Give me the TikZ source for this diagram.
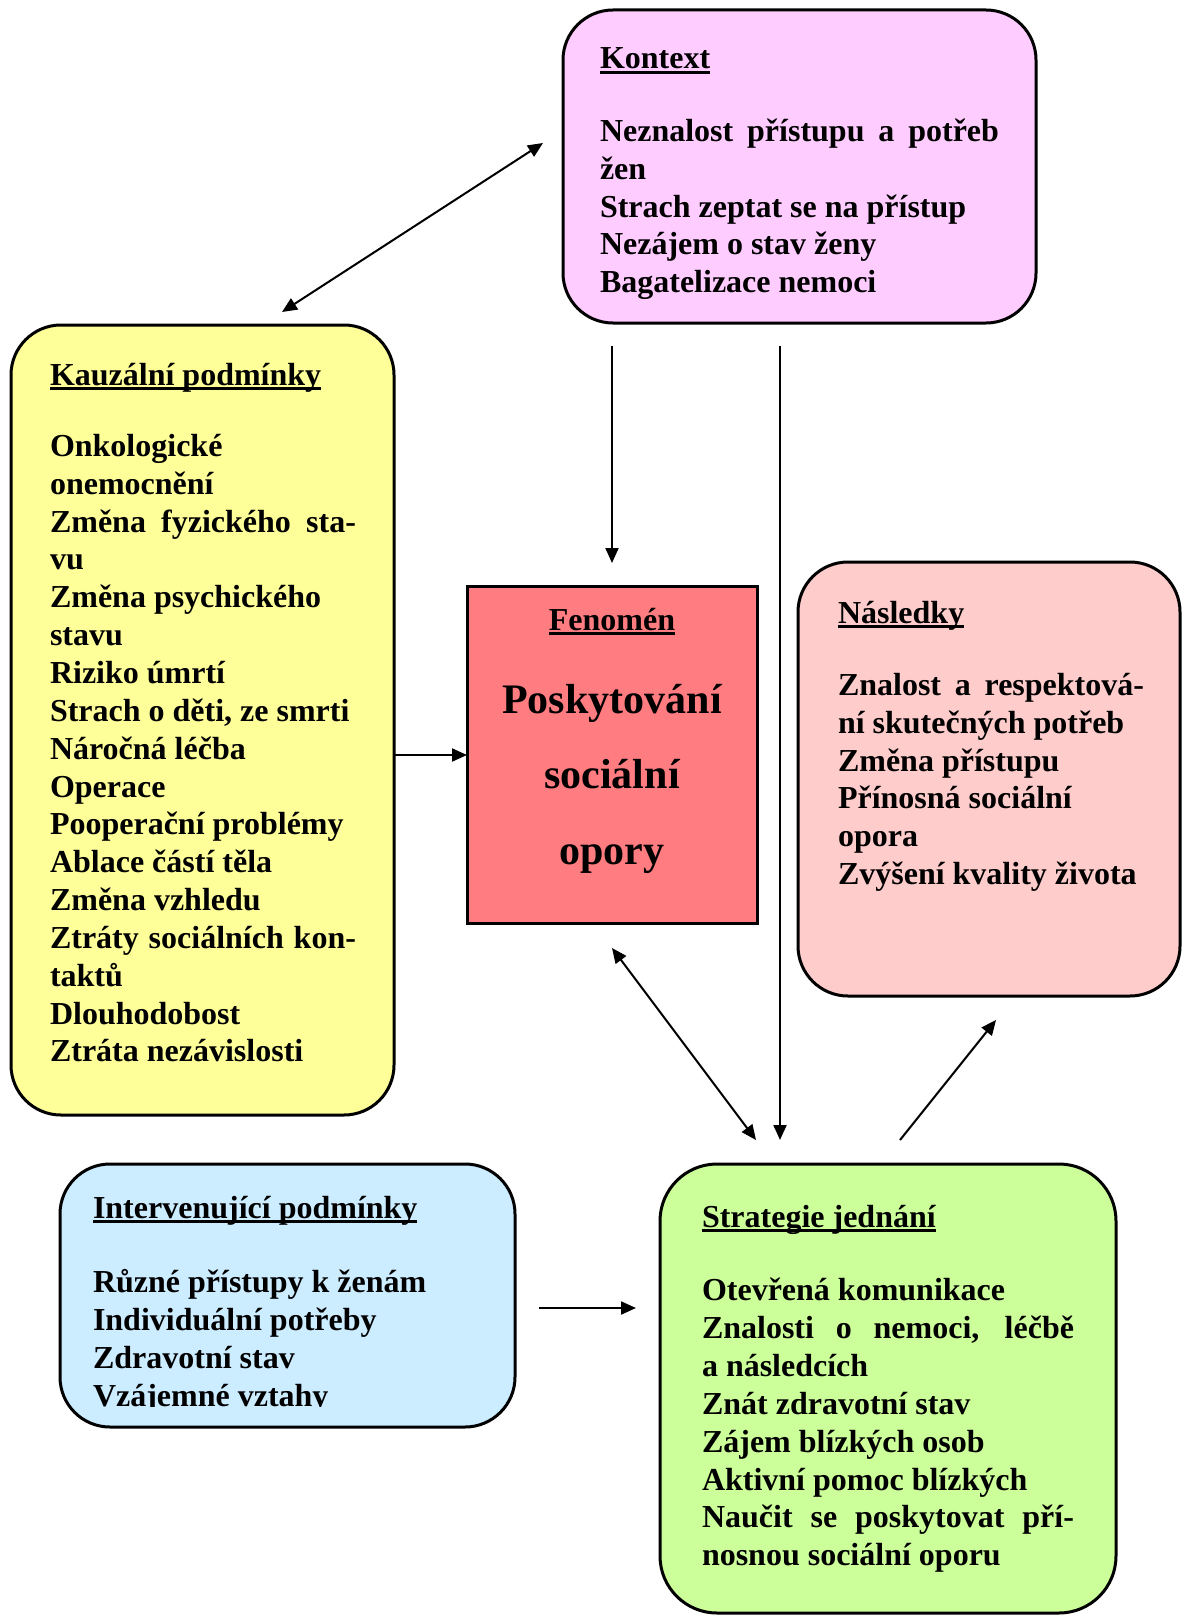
\documentclass[tikz,border=0pt]{standalone}
\usepackage{fontspec}
\setmainfont{Liberation Serif}
\usetikzlibrary{arrows.meta}
\definecolor{ckontext}{HTML}{FFCCFF}
\definecolor{ckauz}{HTML}{FFFF99}
\definecolor{cfen}{HTML}{FF7C80}
\definecolor{cnasl}{HTML}{FFCCCC}
\definecolor{cint}{HTML}{CCECFF}
\definecolor{cstrat}{HTML}{CCFF99}
\newcommand{\Ttl}[1]{\setbox0=\hbox{#1}\hbox{\rlap{\vrule height -2pt depth 5pt width \wd0}\box0}}
\newcommand{\Lf}[1]{\hbox{#1}}
\newcommand{\Lj}[1]{\hbox to \hsize{#1}}
\newcommand{\Lc}[1]{\hbox to \hsize{\hfil#1\hfil}}
\newcommand{\Blk}[2]{\vtop{\fontsize{32pt}{37.85pt}\selectfont\bfseries\hsize=#1\relax\spaceskip=0.25em plus 1fil\relax\lineskiplimit=-100pt\lineskip=0pt #2}}
\tikzset{
  rbox/.style={draw, line width=3pt, rounded corners=50pt, inner sep=0pt, outer sep=0pt},
  sbox/.style={draw, line width=3pt, inner sep=0pt, outer sep=0pt},
  txt/.style={inner sep=0pt, outer sep=0pt, anchor=base west},
  arr/.style={line width=2pt, -{Triangle[length=15pt,width=13pt]}},
  darr/.style={line width=2pt, {Triangle[length=15pt,width=13pt]}-{Triangle[length=15pt,width=13pt]}}
}
\begin{document}
\begin{tikzpicture}[x=1pt,y=-1pt]
\useasboundingbox (0,0) rectangle (1182,1616);
% boxes
\node[rbox, fill=ckontext, minimum width=473pt, minimum height=313pt] (kontext) at (799.5,166.5) {};
\node[rbox, fill=ckauz, minimum width=383pt, minimum height=790pt] (kauz) at (202.5,720) {};
\node[sbox, fill=cfen, minimum width=290pt, minimum height=337pt] (fen) at (612,755) {};
\node[rbox, fill=cnasl, minimum width=382pt, minimum height=434pt] (nasl) at (989,779) {};
\node[rbox, fill=cint, minimum width=455pt, minimum height=263pt] (interv) at (287.5,1295.5) {};
\node[rbox, fill=cstrat, minimum width=456pt, minimum height=449pt, rounded corners=57pt] (strat) at (888,1388.5) {};
% texts
\node[txt] (kontextT) at (600,69) {\Blk{399pt}{%
\Ttl{Kontext}
\vskip 34.5pt
\Lj{Neznalost přístupu a potřeb}
\Lf{žen}
\Lf{Strach zeptat se na přístup}
\Lf{Nezájem o stav ženy}
\Lf{Bagatelizace nemoci}}};
\node[txt] (kauzT) at (50,385) {\Blk{306pt}{%
\Ttl{Kauzální podmínky}
\vskip 33.5pt
\Lf{Onkologické}
\Lf{onemocnění}
\Lj{Změna fyzického sta-}
\Lf{vu}
\Lf{Změna psychického}
\Lf{stavu}
\Lf{Riziko úmrtí}
\Lf{Strach o děti, ze smrti}
\Lf{Náročná léčba}
\Lf{Operace}
\Lf{Pooperační problémy}
\Lf{Ablace částí těla}
\Lf{Změna vzhledu}
\Lj{Ztráty sociálních kon-}
\Lf{taktů}
\Lf{Dlouhodobost}
\Lf{Ztráta nezávislosti}}};
\node[txt, anchor=base] (fenT) at (612,630) {\Blk{280pt}{%
\Lc{\Ttl{Fenomén}}
\fontsize{42pt}{75.5pt}\selectfont
\vskip 7.5pt
\Lc{Poskytování}
\Lc{sociální}
\Lc{opory}}};
\node[txt] (naslT) at (838,623) {\Blk{306pt}{%
\Ttl{Následky}
\vskip 34.5pt
\Lj{Znalost a respektová-}
\Lf{ní skutečných potřeb}
\Lf{Změna přístupu}
\Lf{Přínosná sociální}
\Lf{opora}
\Lf{Zvýšení kvality života}}};
\begin{scope}
\clip (0,0) rectangle (1182,1406);
\node[txt] (intervT) at (93,1218) {\Blk{400pt}{%
\Ttl{Intervenující podmínky}
\vskip 37pt
\Lf{Různé přístupy k ženám}
\Lf{Individuální potřeby}
\Lf{Zdravotní stav}
\Lf{Vzájemné vztahy}}};
\end{scope}
\node[txt] (stratT) at (702,1227) {\Blk{372pt}{%
\Ttl{Strategie jednání}
\vskip 36pt
\Lf{Otevřená komunikace}
\Lj{Znalosti o nemoci, léčbě}
\Lf{a následcích}
\Lf{Znát zdravotní stav}
\Lf{Zájem blízkých osob}
\Lf{Aktivní pomoc blízkých}
\Lj{Naučit se poskytovat pří-}
\Lf{nosnou sociální oporu}}};
% connector ends
\coordinate (a1s) at (282,312);
\coordinate (a1e) at (543,143);
\coordinate (a2s) at (612,346);
\coordinate (a2e) at (612,563);
\coordinate (a3s) at (780,346);
\coordinate (a3e) at (780,1140);
\coordinate (a4s) at (394,755);
\coordinate (a5s) at (612,948);
\coordinate (a5e) at (756,1140);
\coordinate (a6s) at (900,1140);
\coordinate (a6e) at (996,1020);
\coordinate (a7s) at (539,1308);
\coordinate (a7e) at (636,1308);
% connectors
\draw[darr] (a1s) -- (a1e);
\draw[arr] (a2s) -- (a2e);
\draw[arr] (a3s) -- (a3e);
\draw[arr] (a4s) -- (fen.west);
\draw[darr] (a5s) -- (a5e);
\draw[arr] (a6s) -- (a6e);
\draw[arr] (a7s) -- (a7e);
\end{tikzpicture}
\end{document}
